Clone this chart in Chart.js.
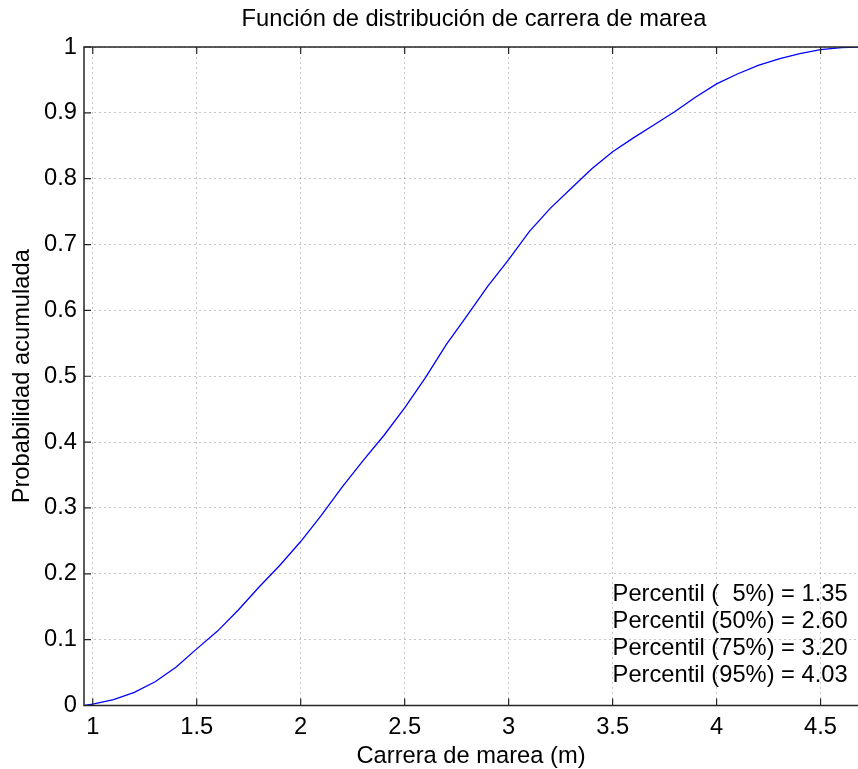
<!DOCTYPE html>
<html>
<head>
<meta charset="utf-8">
<script src="https://cdn.jsdelivr.net/npm/chart.js@4.4.1/dist/chart.umd.min.js"></script>
<style>
  html, body { margin: 0; padding: 0; background: #fff; }
  #wrap { width: 858px; height: 769px; }
</style>
</head>
<body>
<div id="wrap"><canvas id="cdf"></canvas></div>
<script>
// Datos
const carrera = [0.96, 1.0, 1.1, 1.2, 1.3, 1.4, 1.5, 1.6, 1.7, 1.8, 1.9, 2.0, 2.1, 2.2, 2.3, 2.4,
                 2.5, 2.6, 2.7, 2.8, 2.9, 3.0, 3.1, 3.2, 3.3, 3.4, 3.5, 3.6, 3.7, 3.8, 3.9, 4.0,
                 4.1, 4.2, 4.3, 4.4, 4.5, 4.6, 4.68];
const probAcum = [0.0, 0.002, 0.009, 0.02, 0.036, 0.058, 0.086, 0.113, 0.145, 0.18, 0.213, 0.249, 0.289, 0.332, 0.372, 0.41,
                  0.452, 0.498, 0.548, 0.592, 0.637, 0.677, 0.72, 0.755, 0.785, 0.815, 0.841, 0.862, 0.882, 0.902, 0.924, 0.944,
                  0.959, 0.972, 0.982, 0.99, 0.996, 0.999, 1.0];
const xTicks = [1, 1.5, 2, 2.5, 3, 3.5, 4, 4.5];
const yTicks = [0, 0.1, 0.2, 0.3, 0.4, 0.5, 0.6, 0.7, 0.8, 0.9, 1];
const percentiles = ['Percentil (  5%) = 1.35', 'Percentil (50%) = 2.60', 'Percentil (75%) = 3.20', 'Percentil (95%) = 4.03'];
const titulo = 'Función de distribución de carrera de marea';

const FAMILY = "'Liberation Sans', Arial, Helvetica, sans-serif";
const SIZE = 23.7;

// Marco tipo MATLAB: borde superior, marcas hacia dentro, título y texto de percentiles
const marco = {
    id: 'marco',
    afterDatasetsDraw(chart) {
        const { ctx, chartArea: a, scales: { x, y } } = chart;
        ctx.save();
        ctx.strokeStyle = '#262626';
        ctx.lineWidth = 1.5;
        ctx.beginPath();
        ctx.moveTo(a.right, a.top); ctx.lineTo(a.left, a.top);
        ctx.lineTo(a.left, a.bottom); ctx.lineTo(a.right, a.bottom);
        ctx.stroke();

        ctx.lineWidth = 1.2;
        ctx.beginPath();
        xTicks.forEach(v => {
            const px = x.getPixelForValue(v);
            ctx.moveTo(px, a.bottom); ctx.lineTo(px, a.bottom - 7);
            ctx.moveTo(px, a.top); ctx.lineTo(px, a.top + 7);
        });
        yTicks.forEach(v => {
            const py = y.getPixelForValue(v);
            ctx.moveTo(a.left, py); ctx.lineTo(a.left + 7, py);
        });
        ctx.stroke();

        ctx.fillStyle = '#000';
        ctx.font = SIZE + 'px ' + FAMILY;
        ctx.textBaseline = 'middle';
        ctx.textAlign = 'center';
        ctx.fillText(titulo, (a.left + a.right) / 2 + 3, 19);

        ctx.textAlign = 'left';
        const tx = x.getPixelForValue(3.5);
        const ty = y.getPixelForValue(0.169);
        percentiles.forEach((t, i) => ctx.fillText(t, tx, ty + i * 27));
        ctx.restore();
    }
};

const ctx = document.getElementById('cdf').getContext('2d');
const chart = new Chart(ctx, {
    type: 'line',
    data: {
        datasets: [{
            data: carrera.map((c, i) => ({ x: c, y: probAcum[i] })),
            borderColor: '#0000ff',
            borderWidth: 1.3,
            pointRadius: 0,
            tension: 0,
            fill: false
        }]
    },
    options: {
        responsive: true,
        maintainAspectRatio: false,
        animation: false,
        layout: { padding: { top: 47, left: 0, right: 0, bottom: 0 } },
        plugins: {
            legend: { display: false },
            tooltip: { enabled: false },
            title: { display: false }
        },
        scales: {
            x: {
                type: 'linear',
                min: 0.958,
                max: 4.68,
                afterBuildTicks: s => { s.ticks = xTicks.map(v => ({ value: v })); },
                afterFit: s => { s.height = 63.5; },
                ticks: {
                    color: '#000',
                    font: { family: FAMILY, size: SIZE },
                    padding: 8,
                    maxRotation: 0,
                    autoSkip: false,
                    callback: v => String(v)
                },
                grid: { color: 'rgba(0,0,0,0.22)', lineWidth: 1, drawTicks: false },
                border: { display: false, dash: [2, 3] },
                title: {
                    display: true,
                    text: 'Carrera de marea (m)',
                    color: '#000',
                    font: { family: FAMILY, size: SIZE },
                    padding: { top: 0, bottom: -1.5 }
                }
            },
            y: {
                min: 0,
                max: 1,
                afterBuildTicks: s => { s.ticks = yTicks.map(v => ({ value: v })); },
                afterFit: s => { s.width = 84; },
                ticks: {
                    color: '#000',
                    font: { family: FAMILY, size: SIZE },
                    padding: 7,
                    autoSkip: false,
                    callback: v => String(v)
                },
                grid: { color: 'rgba(0,0,0,0.22)', lineWidth: 1, drawTicks: false },
                border: { display: false, dash: [2, 3] },
                title: {
                    display: true,
                    text: 'Probabilidad acumulada',
                    color: '#000',
                    font: { family: FAMILY, size: SIZE },
                    padding: { top: 8, bottom: 0 }
                }
            }
        }
    },
    plugins: [marco]
});
</script>
</body>
</html>
